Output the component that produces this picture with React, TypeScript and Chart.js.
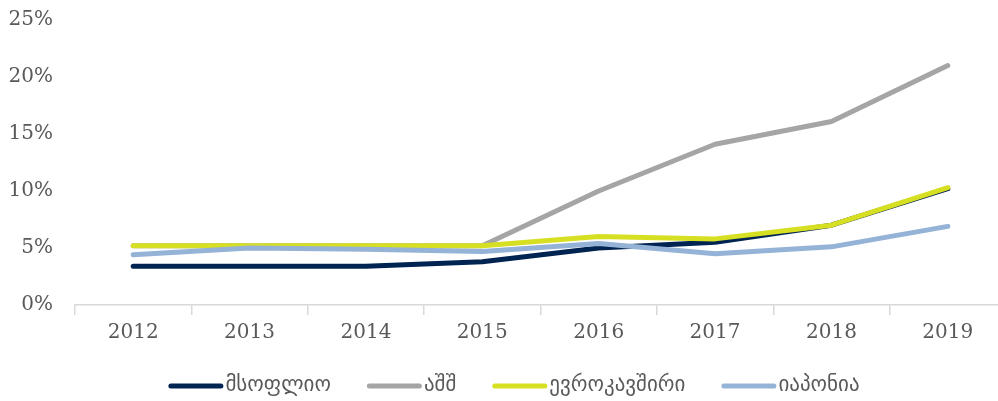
import React, { useEffect, useRef } from "react";
import { Chart, registerables } from "chart.js";

Chart.register(...registerables);

const years = ["2012", "2013", "2014", "2015", "2016", "2017", "2018", "2019"];
const worldValues = [3.4, 3.4, 3.4, 3.8, 5.0, 5.5, 7.0, 10.2];
const usaValues = [5.2, 5.2, 5.2, 5.2, 10.0, 14.1, 16.1, 21.0];
const euValues = [5.2, 5.2, 5.2, 5.2, 6.0, 5.8, 7.0, 10.3];
const japanValues = [4.4, 5.0, 4.9, 4.7, 5.4, 4.5, 5.1, 6.9];
const seriesNames = ["მსოფლიო", "აშშ", "ევროკავშირი", "იაპონია"];
const seriesColors = ["#002451", "#A5A5A5", "#D7DF23", "#95B3D7"];

const FONT = "'DejaVu Serif', 'DejaVu Sans', serif";
const LEGEND_FONT = "21px 'DejaVu Sans', sans-serif";

const legendPlugin = {
  id: "customLegend",
  afterDraw(chart: any) {
    const ctx = chart.ctx as CanvasRenderingContext2D;
    const ds = chart.data.datasets;
    const sample = 55;
    const gapText = 2;
    const gapItem = 36;
    const y = 386;
    ctx.save();
    ctx.font = LEGEND_FONT;
    const widths = ds.map((d: any) => ctx.measureText(d.label).width);
    let total = 0;
    widths.forEach((w: number, i: number) => {
      total += sample + gapText + w + (i < widths.length - 1 ? gapItem : 0);
    });
    let x = 514 - total / 2;
    ds.forEach((d: any, i: number) => {
      ctx.strokeStyle = d.borderColor;
      ctx.lineWidth = 5;
      ctx.lineCap = "round";
      ctx.beginPath();
      ctx.moveTo(x + 2.5, y);
      ctx.lineTo(x + sample - 2.5, y);
      ctx.stroke();
      ctx.fillStyle = "#595959";
      ctx.textBaseline = "middle";
      ctx.textAlign = "left";
      ctx.fillText(d.label, x + sample + gapText, y);
      x += sample + gapText + widths[i] + gapItem;
    });
    ctx.restore();
  },
};

export default function App() {
  const ref = useRef<HTMLCanvasElement | null>(null);
  useEffect(() => {
    if (!ref.current) return;
    const all = [worldValues, usaValues, euValues, japanValues];
    const chart = new Chart(ref.current, {
      type: "line",
      data: {
        labels: years,
        datasets: all.map((vals, i) => ({
          label: seriesNames[i],
          data: vals,
          borderColor: seriesColors[i],
          backgroundColor: seriesColors[i],
          borderWidth: 5,
          pointRadius: 0,
          borderCapStyle: "round" as const,
          borderJoinStyle: "round" as const,
          tension: 0,
          order: 4 - i,
        })),
      },
      plugins: [legendPlugin],
      options: {
        animation: false,
        responsive: false,
        maintainAspectRatio: false,
        layout: { padding: { top: 20, left: 0, right: 0, bottom: 51 } },
        plugins: {
          tooltip: { enabled: false },
          legend: { display: false },
        },
        scales: {
          x: {
            offset: true,
            grid: {
              offset: true,
              drawOnChartArea: false,
              drawTicks: true,
              tickLength: 10,
              color: "#D9D9D9",
              lineWidth: 1.5,
            },
            border: { color: "#D9D9D9", width: 1.5 },
            ticks: {
              color: "#595959",
              font: { family: FONT, size: 20 },
              padding: 6,
            },
            afterFit: (s: any) => {
              s.height = 45;
            },
          },
          y: {
            min: 0,
            max: 25,
            grid: { display: false, drawTicks: false },
            border: { display: false },
            ticks: {
              stepSize: 5,
              color: "#595959",
              font: { family: FONT, size: 20 },
              padding: 22,
              callback: (v: any) => v + "%",
            },
            afterFit: (s: any) => {
              s.width = 75;
              s.paddingTop = 12;
              s.paddingBottom = 12;
            },
          },
        },
      },
    });
    return () => chart.destroy();
  }, []);
  return (
    <div style={{ position: "absolute", left: 0, top: 0, width: 998, height: 401, overflow: "hidden" }}>
      <canvas ref={ref} width={1006} height={401} style={{ display: "block" }} />
    </div>
  );
}
